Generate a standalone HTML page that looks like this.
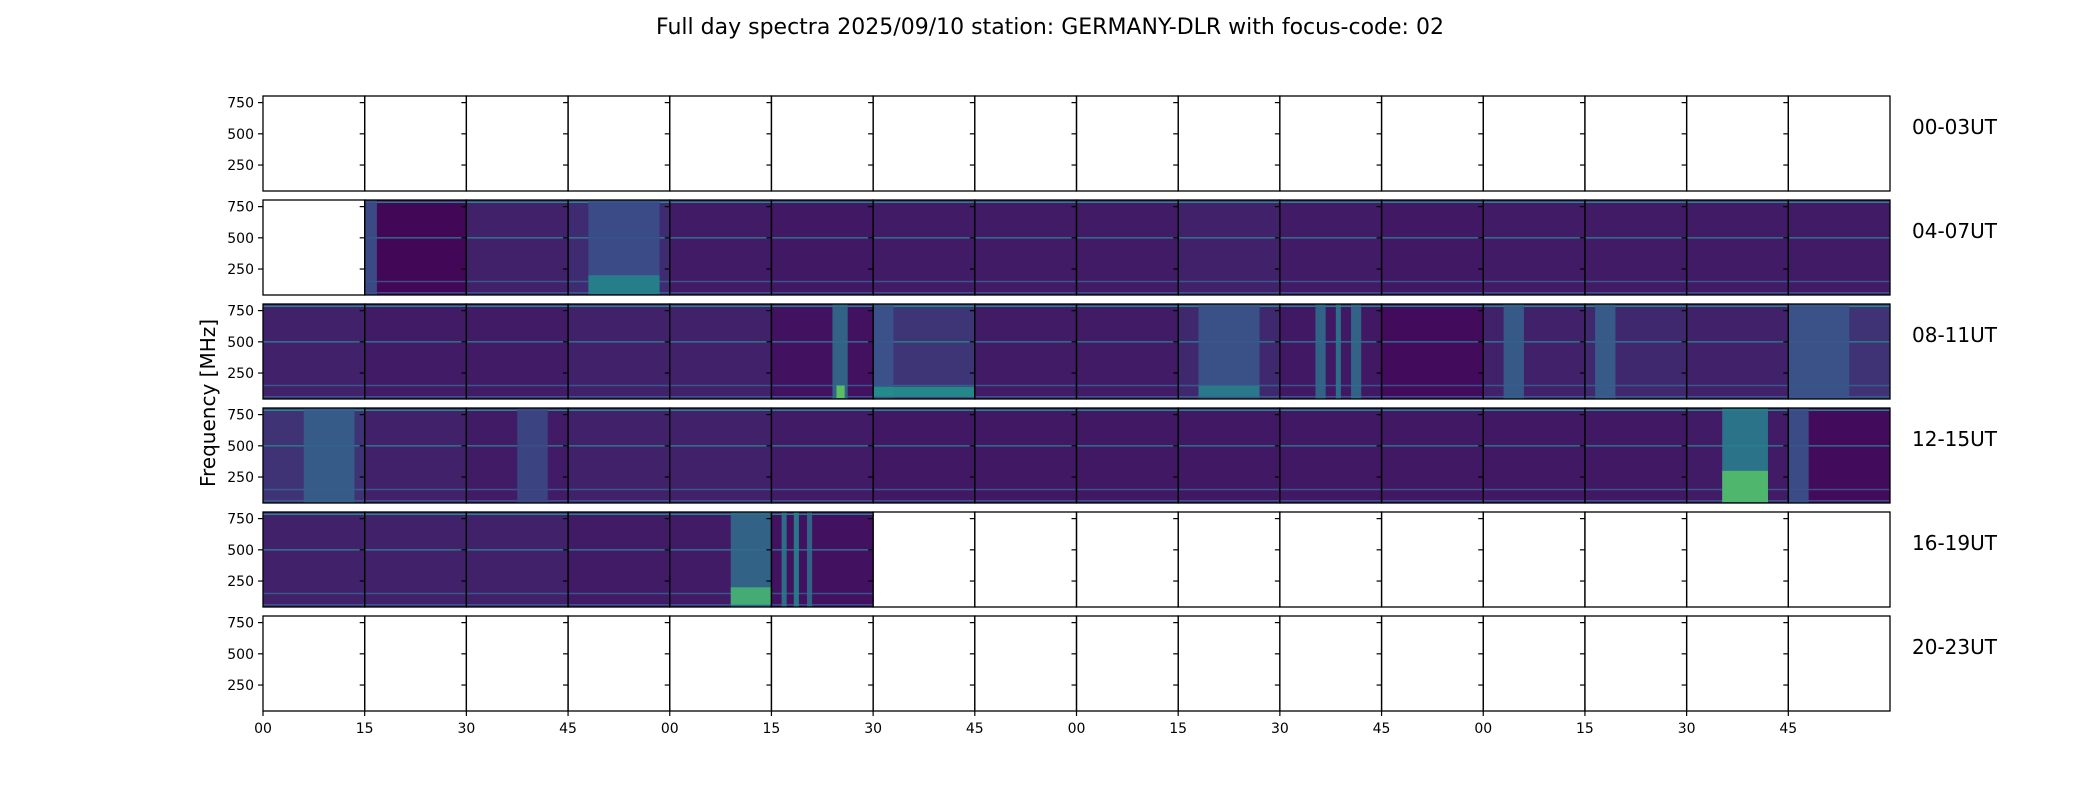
<!DOCTYPE html>
<html><head><meta charset="utf-8"><style>
html,body{margin:0;padding:0;background:#fff;}
svg{display:block;font-family:"DejaVu Sans","Liberation Sans",sans-serif;}
</style></head><body>
<svg id="chart" width="2100" height="800" xmlns="http://www.w3.org/2000/svg">
<text x="1050" y="34" font-size="22" text-anchor="middle">Full day spectra 2025/09/10 station: GERMANY-DLR with focus-code: 02</text>
<text transform="translate(215,403) rotate(-90)" font-size="20" text-anchor="middle">Frequency [MHz]</text>
<g id="panels"></g>
</svg>
<script>
const rowLabels = ["00-03UT","04-07UT","08-11UT","12-15UT","16-19UT","20-23UT"];
const xTickLabels = ["00","15","30","45","00","15","30","45","00","15","30","45","00","15","30","45"];
const yTicks = [250,500,750];
// base viridis level per panel (null = no data)
const base0 = [null,null,null,null,null,null,null,null,null,null,null,null,null,null,null,null];
const base1 = [null,0.02,0.1,0.13,0.08,0.07,0.08,0.08,0.08,0.1,0.08,0.07,0.08,0.08,0.08,0.08];
const base2 = [0.1,0.08,0.08,0.1,0.1,0.05,0.16,0.08,0.08,0.12,0.07,0.03,0.1,0.12,0.1,0.15];
const base3 = [0.15,0.1,0.08,0.1,0.1,0.08,0.07,0.07,0.07,0.07,0.07,0.07,0.07,0.07,0.08,0.03];
const base4 = [0.1,0.1,0.1,0.08,0.08,0.05,null,null,null,null,null,null,null,null,null,null];
const base5 = [null,null,null,null,null,null,null,null,null,null,null,null,null,null,null,null];
const bases = [base0,base1,base2,base3,base4,base5];
// horizontal interference lines (MHz) and their levels
const lineFreqs = [785,500,150,60];
const lineLevels = [0.4,0.33,0.22,0.22];
// bursts: row, col, start fraction, end fraction, level, fmin, fmax
const bursts = [
 [1,1,0.0,0.12,0.25,45,800],[1,3,0.2,0.9,0.24,45,800],[1,3,0.2,0.9,0.45,50,200],
 [2,5,0.6,0.75,0.35,45,800],[2,5,0.64,0.72,0.75,50,150],[2,6,0.0,0.2,0.26,45,800],[2,6,0.0,1.0,0.5,60,140],
 [2,9,0.2,0.8,0.26,45,800],[2,9,0.2,0.8,0.42,60,150],[2,10,0.35,0.45,0.35,45,800],[2,10,0.55,0.6,0.4,45,800],[2,10,0.7,0.8,0.35,45,800],
 [2,12,0.2,0.4,0.3,45,800],[2,13,0.1,0.3,0.3,45,800],[2,15,0.0,0.6,0.26,45,800],
 [3,0,0.4,0.9,0.3,45,800],[3,2,0.5,0.8,0.22,45,800],[3,14,0.35,0.8,0.42,45,800],[3,14,0.35,0.8,0.7,50,300],[3,15,0.0,0.2,0.25,45,800],
 [4,4,0.6,1.0,0.35,45,800],[4,4,0.6,1.0,0.65,60,200],[4,5,0.1,0.15,0.4,45,800],[4,5,0.22,0.27,0.45,45,800],[4,5,0.35,0.4,0.35,45,800]
];
const L=263, R=1890, T0=96, RH=95, RS=104, NC=16, FMIN=42, FMAX=803;
const PW=(R-L)/NC;
const stops=[[0,[68,1,84]],[0.25,[59,82,139]],[0.5,[33,145,140]],[0.75,[94,201,98]],[1,[253,231,37]]];
function vir(t){t=Math.max(0,Math.min(1,t));for(let i=1;i<stops.length;i++){if(t<=stops[i][0]){const a=stops[i-1],b=stops[i],f=(t-a[0])/(b[0]-a[0]);return 'rgb('+a[1].map((v,k)=>Math.round(v+(b[1][k]-v)*f)).join(',')+')';}}return 'rgb(253,231,37)';}
const xs=c=>L+c*PW;
const yf=(r,f)=>T0+r*RS+(FMAX-f)/(FMAX-FMIN)*RH;
const NS='http://www.w3.org/2000/svg';
const g=document.getElementById('panels');
function el(tag,attrs,parent){const e=document.createElementNS(NS,tag);for(const k in attrs)e.setAttribute(k,attrs[k]);(parent||g).appendChild(e);return e;}
for(let r=0;r<6;r++){
 for(let c=0;c<NC;c++){
  const v=bases[r][c];
  if(v===null) continue;
  const pr=el('rect',{x:xs(c),y:T0+r*RS,width:PW,height:RH,fill:vir(v)});
  
  
  lineFreqs.forEach((f,i)=>{
   const ln=el('rect',{x:xs(c),y:yf(r,f)-0.75,width:PW,height:1.5,fill:vir(lineLevels[i]+v*0.5)});
   
   
  });
 }
}
bursts.forEach(b=>{
 const [r,c,a,e,lv,f0,f1]=b;
 const br=el('rect',{x:xs(c)+a*PW,y:yf(r,f1),width:(e-a)*PW,height:yf(r,f0)-yf(r,f1),fill:vir(lv),opacity:0.9});
 
 
});
for(let r=0;r<6;r++){
 const top=T0+r*RS;
 for(let c=0;c<NC;c++){
  const fr=el('rect',{x:xs(c),y:top,width:PW,height:RH,fill:'none',stroke:'#000','stroke-width':1.3});
  
  
  yTicks.forEach(t=>{el('line',{x1:xs(c)-5,x2:xs(c),y1:yf(r,t),y2:yf(r,t),stroke:'#000','stroke-width':1.2});});
 }
 yTicks.forEach(t=>{
  const tl=el('text',{x:L-9,y:yf(r,t)+5,'font-size':14,'text-anchor':'end'});
  tl.textContent=t;
  
  
 });
 const rl=el('text',{x:1912,y:top+38,'font-size':20});
 rl.textContent=rowLabels[r];
 
 
}
const bot=T0+5*RS+RH;
xTickLabels.forEach((s,c)=>{
 el('line',{x1:xs(c),x2:xs(c),y1:bot,y2:bot+5,stroke:'#000','stroke-width':1.2});
 const xl=el('text',{x:xs(c),y:bot+22,'font-size':14,'text-anchor':'middle'});
 xl.textContent=s;
 
 
});
</script>
</body></html>
